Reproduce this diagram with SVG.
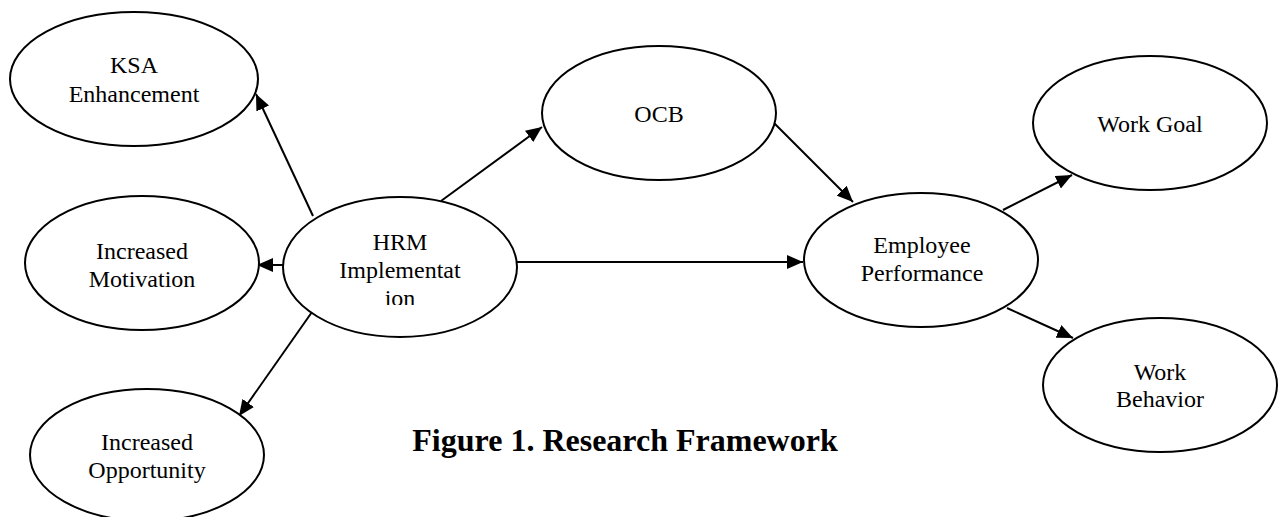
<svg xmlns="http://www.w3.org/2000/svg" width="1279" height="517" viewBox="0 0 1279 517">
  <style>
    .node { fill: #ffffff; stroke: #000000; stroke-width: 2; }
    .label { font-family: "Liberation Serif", "Times New Roman", serif; font-size: 24px; fill: #000000; text-anchor: middle; }
    .edge { stroke: #000000; stroke-width: 2; fill: none; marker-end: url(#arrow); }
    .title { font-family: "Liberation Serif", "Times New Roman", serif; font-size: 32px; font-weight: bold; fill: #000000; text-anchor: middle; }
  </style>
  <defs>
    <marker id="arrow" markerUnits="userSpaceOnUse" markerWidth="16" markerHeight="14" refX="16" refY="7" orient="auto">
      <path d="M0,0 L16,7 L0,14 z" fill="#000000"/>
    </marker>
    <!-- text box of the HRM node cuts off its third line -->
    <clipPath id="hrm-box">
      <rect x="330" y="225" width="140" height="80"/>
    </clipPath>
  </defs>

  <rect width="1279" height="517" fill="#ffffff"/>

  <g id="connectors">
    <line class="edge" x1="313" y1="216" x2="256" y2="94"/>
    <line class="edge" x1="441" y1="201" x2="542" y2="127"/>
    <line class="edge" x1="285" y1="265" x2="257" y2="265"/>
    <line class="edge" x1="312" y1="312" x2="239" y2="416"/>
    <line class="edge" x1="515" y1="262" x2="803" y2="262"/>
    <line class="edge" x1="773" y1="122" x2="853" y2="202"/>
    <line class="edge" x1="1003" y1="210" x2="1072" y2="175"/>
    <line class="edge" x1="1007" y1="308" x2="1073" y2="338"/>
  </g>

  <g id="node-ksa">
    <ellipse class="node" cx="134" cy="79" rx="124" ry="67"/>
    <text class="label" x="134" y="73">KSA</text>
    <text class="label" x="134" y="102">Enhancement</text>
  </g>

  <g id="node-motivation">
    <ellipse class="node" cx="142" cy="263" rx="117" ry="67"/>
    <text class="label" x="142" y="259">Increased</text>
    <text class="label" x="142" y="287">Motivation</text>
  </g>

  <g id="node-opportunity">
    <ellipse class="node" cx="147" cy="455" rx="117" ry="66"/>
    <text class="label" x="147" y="450">Increased</text>
    <text class="label" x="147" y="478">Opportunity</text>
  </g>

  <g id="node-hrm">
    <ellipse class="node" cx="400" cy="267" rx="117" ry="70"/>
    <text class="label" x="400" y="250">HRM</text>
    <g clip-path="url(#hrm-box)">
      <text class="label" x="400" y="278">Implementat</text>
      <text class="label" x="400" y="306">ion</text>
    </g>
  </g>

  <g id="node-ocb">
    <ellipse class="node" cx="659" cy="113" rx="117" ry="67"/>
    <text class="label" x="659" y="122">OCB</text>
  </g>

  <g id="node-performance">
    <ellipse class="node" cx="921" cy="260" rx="117" ry="67"/>
    <text class="label" x="922" y="253">Employee</text>
    <text class="label" x="922" y="281">Performance</text>
  </g>

  <g id="node-work-goal">
    <ellipse class="node" cx="1150" cy="123" rx="117" ry="67"/>
    <text class="label" x="1150" y="132">Work Goal</text>
  </g>

  <g id="node-work-behavior">
    <ellipse class="node" cx="1160" cy="385" rx="117" ry="67"/>
    <text class="label" x="1160" y="380">Work</text>
    <text class="label" x="1160" y="407">Behavior</text>
  </g>

  <text class="title" x="625" y="451">Figure 1. Research Framework</text>
</svg>
